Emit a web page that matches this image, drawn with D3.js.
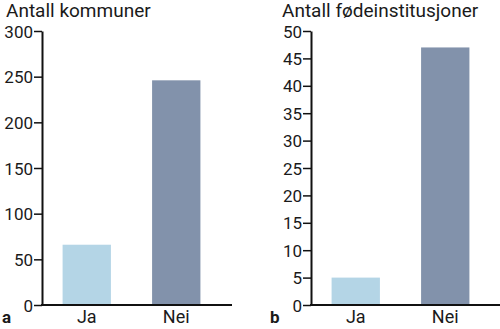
<!DOCTYPE html>
<html><head><meta charset="utf-8">
<script src="https://cdnjs.cloudflare.com/ajax/libs/d3/7.8.5/d3.min.js"></script>
<style>body{margin:0;background:#fff}svg{display:block}text{font-family:Roboto,"DejaVu Sans",sans-serif;fill:#1a1a1a}</style>
</head><body><svg id="c" width="500" height="329"></svg>
<script>
const categories = ["Ja", "Nei"];
const kommuner = [66, 246];
const fodeinst = [5, 47];
const ticksA = [0, 50, 100, 150, 200, 250, 300];
const ticksB = [0, 5, 10, 15, 20, 25, 30, 35, 40, 45, 50];
const colors = ["#b4d5e6", "#8292ab"];

const svg = d3.select("#c");
const y0 = 305, y1 = 31;

function panel(cfg) {
  const g = svg.append("g");
  const y = d3.scaleLinear().domain([0, cfg.max]).range([y0, y1]);
  const x = d3.scaleBand().domain(categories).range([cfg.ax, cfg.ax + 179])
    .paddingInner(0.46).paddingOuter(0.23).align(0.5);
  g.selectAll("rect").data(cfg.values).join("rect")
    .attr("x", (d, i) => x(categories[i]))
    .attr("width", x.bandwidth())
    .attr("y", d => y(d))
    .attr("height", d => y0 - y(d))
    .attr("fill", (d, i) => colors[i]);
  const ya = g.append("g").attr("transform", `translate(${cfg.ax},0)`)
    .call(d3.axisLeft(y).tickValues(cfg.ticks).tickSize(8).tickPadding(1).tickSizeOuter(0));
  ya.select(".domain").attr("stroke", "#111").attr("stroke-width", 2);
  ya.selectAll(".tick line").attr("stroke", "#111").attr("stroke-width", 1.5);
  ya.selectAll(".tick text").style("font-size", "17px").style("font-weight", "400").attr("fill", "#1a1a1a").attr("dy", "0.36em");
  g.append("line").attr("x1", cfg.ax - 1).attr("x2", cfg.xEnd).attr("y1", y0).attr("y2", y0)
    .attr("stroke", "#111").attr("stroke-width", 2);
  g.selectAll("text.cat").data(categories).join("text").attr("class", "cat")
    .attr("x", d => x(d) + x.bandwidth() / 2).attr("y", 323)
    .attr("text-anchor", "middle").style("font-size", "18px").style("font-weight", "400").text(d => d);
  g.append("text").attr("x", cfg.titleX).attr("y", 17).style("font-size", "19px").style("font-weight", "400").text(cfg.title);
  g.append("text").attr("x", cfg.letterX).attr("y", 323).style("font-size", "17px").style("font-weight", "bold").text(cfg.letter);
}

panel({max: 300, values: kommuner, ticks: ticksA, ax: 42, xEnd: 232, title: "Antall kommuner", titleX: 6, letter: "a", letterX: 2});
panel({max: 50, values: fodeinst, ticks: ticksB, ax: 311, xEnd: 500, title: "Antall fødeinstitusjoner", titleX: 282, letter: "b", letterX: 270});
</script></body></html>
